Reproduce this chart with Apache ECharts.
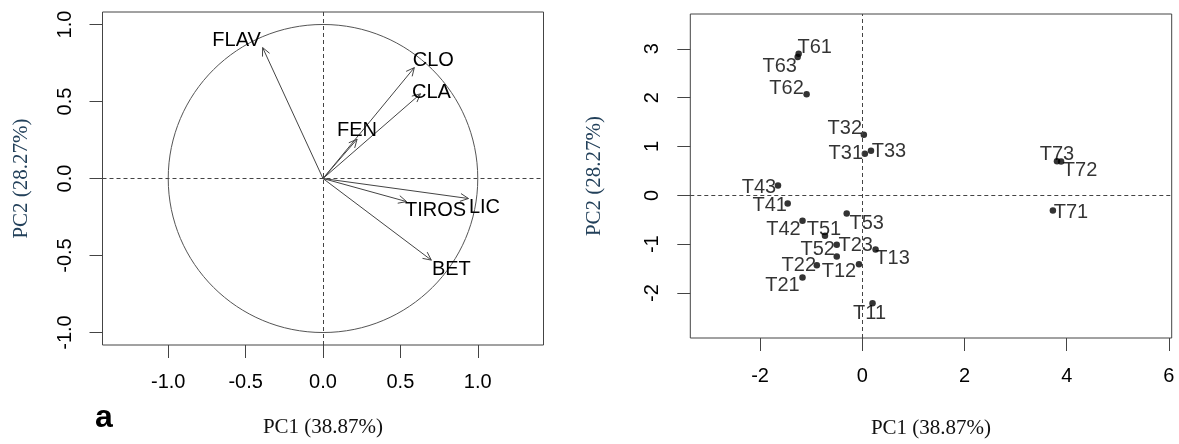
<!DOCTYPE html>
<html>
<head>
<meta charset="utf-8">
<script src="https://cdn.jsdelivr.net/npm/echarts@6/dist/echarts.min.js"></script>
<style>
html,body{margin:0;padding:0;background:#fff;}
#chart{width:1179px;height:444px;}
</style>
</head>
<body>
<div id="chart"></div>
<script>
// ---- Data: loadings (panel a) ----
const loadingVars = ['FLAV', 'CLO', 'CLA', 'FEN', 'LIC', 'TIROS', 'BET'];
const loadingPC1 = [-0.39, 0.59, 0.63, 0.22, 0.94, 0.54, 0.70];
const loadingPC2 = [0.85, 0.72, 0.55, 0.255, -0.13, -0.15, -0.53];
const circleRadius = [1];

// ---- Data: sample scores (panel b) ----
const samples = ['T11','T12','T13','T21','T22','T23','T31','T32','T33','T41','T42','T43','T51','T52','T53','T61','T62','T63','T71','T72','T73'];
const scorePC1 = [0.20, -0.065, 0.26, -1.17, -0.89, -0.50, 0.05, 0.03, 0.17, -1.46, -1.17, -1.65, -0.73, -0.50, -0.305, -1.245, -1.09, -1.265, 3.73, 3.89, 3.81];
const scorePC2 = [-2.21, -1.41, -1.11, -1.68, -1.43, -1.01, 0.85, 1.24, 0.91, -0.17, -0.52, 0.20, -0.83, -1.25, -0.37, 2.90, 2.07, 2.83, -0.31, 0.69, 0.70];

// ---- Tick labels ----
const ticksA = [-1.0, -0.5, 0.0, 0.5, 1.0];
const ticksBx = [-2, 0, 2, 4, 6];
const ticksBy = [-2, -1, 0, 1, 2, 3];
const xTitle = 'PC1 (38.87%)';
const yTitle = 'PC2 (28.27%)';
const panelLetter = 'a';

// ---- Styling (label offsets in px, not data) ----
const arrowLabelOffset = {
  FLAV: [-26, -7], CLO: [19, -7], CLA: [11, -1], FEN: [0, -9],
  LIC: [16, 9], TIROS: [29, 9], BET: [20, 9]
};
const pointLabelOffset = {
  T11: [-3, 10], T12: [-20, 7], T13: [17, 9], T21: [-20, 8], T22: [-18, 0], T23: [19, 1],
  T31: [-19, 0], T32: [-19, -6], T33: [18, 1], T41: [-18, 2], T42: [-19, 9], T43: [-19, 2],
  T51: [-1, -6], T52: [-19, -7], T53: [20, 10], T61: [16, -6], T62: [-20, -6], T63: [-18, 9],
  T71: [18, 2], T72: [19, 9], T73: [0, -7]
};

const SANS = 'Liberation Sans, Arial, sans-serif';
const SERIF = 'Liberation Serif, Times New Roman, serif';
const LBL = 20;
const lineCol = '#444';

const chart = echarts.init(document.getElementById('chart'), null, {renderer: 'canvas'});

function axisCommon(vals, fmt, isY, margin) {
  return {
    type: 'value',
    splitLine: {show: false},
    axisLine: {show: false, onZero: false},
    axisTick: {show: true, inside: false, length: 13, customValues: vals, lineStyle: {color: lineCol, width: 1}},
    axisLabel: {show: true, customValues: vals, formatter: fmt, color: '#000', fontFamily: SANS, fontSize: LBL,
                margin: margin, rotate: isY ? 90 : 0},
    nameLocation: 'middle',
    nameTextStyle: {fontFamily: SERIF, fontSize: 21, color: isY ? '#22405a' : '#111'}
  };
}

const zeroLines = {
  silent: true, symbol: 'none', animation: false,
  label: {show: false},
  lineStyle: {type: [4, 3], color: lineCol, width: 1},
  data: [{xAxis: 0}, {yAxis: 0}]
};

const arrowData = loadingVars.map((n, i) => ({name: n, value: [loadingPC1[i], loadingPC2[i]]}));
const pointData = samples.map((n, i) => ({
  name: n, value: [scorePC1[i], scorePC2[i]],
  label: {offset: pointLabelOffset[n]}
}));

const option = {
  animation: false,
  backgroundColor: '#fff',
  grid: [
    {left: 102.5, top: 12, width: 441, height: 333, show: true, borderColor: lineCol, borderWidth: 1, backgroundColor: 'transparent'},
    {left: 690.3, top: 14, width: 481.4, height: 327, show: true, borderColor: lineCol, borderWidth: 1, backgroundColor: 'transparent'}
  ],
  xAxis: [
    Object.assign(axisCommon(ticksA, v => Number(v).toFixed(1), false, 27), {gridIndex: 0, min: -1.4247, max: 1.4247, name: xTitle, nameGap: 72}),
    Object.assign(axisCommon(ticksBx, v => String(v), false, 28), {gridIndex: 1, min: -3.366, max: 6.055, name: xTitle, nameGap: 80})
  ],
  yAxis: [
    Object.assign(axisCommon(ticksA, v => Number(v).toFixed(1), true, 27), {gridIndex: 0, min: -1.081, max: 1.081, name: yTitle, nameGap: 71}),
    Object.assign(axisCommon(ticksBy, v => String(v), true, 28), {gridIndex: 1, min: -2.921, max: 3.712, name: yTitle, nameGap: 85})
  ],
  graphic: [
    {type: 'text', left: 95, top: 402, style: {text: panelLetter, font: 'bold 32px ' + SANS, fill: '#000'}}
  ],
  series: [
    {
      type: 'custom', xAxisIndex: 0, yAxisIndex: 0, silent: true,
      data: circleRadius.map(r => [0, 0, r]),
      renderItem: function (params, api) {
        const c = api.coord([api.value(0), api.value(1)]);
        const s = api.size([api.value(2), api.value(2)]);
        return {type: 'ellipse', shape: {cx: c[0], cy: c[1], rx: s[0], ry: s[1]},
                style: {fill: 'none', stroke: '#555', lineWidth: 1}};
      },
      markLine: zeroLines
    },
    {
      type: 'custom', xAxisIndex: 0, yAxisIndex: 0, silent: true,
      data: arrowData,
      renderItem: function (params, api) {
        const p0 = api.coord([0, 0]);
        const p1 = api.coord([api.value(0), api.value(1)]);
        const ang = Math.atan2(p1[1] - p0[1], p1[0] - p0[0]);
        const L = 9, a = Math.PI / 7;
        const h1 = [p1[0] - L * Math.cos(ang - a), p1[1] - L * Math.sin(ang - a)];
        const h2 = [p1[0] - L * Math.cos(ang + a), p1[1] - L * Math.sin(ang + a)];
        const name = loadingVars[params.dataIndex];
        const off = arrowLabelOffset[name];
        return {type: 'group', children: [
          {type: 'line', shape: {x1: p0[0], y1: p0[1], x2: p1[0], y2: p1[1]}, style: {stroke: lineCol, lineWidth: 1}},
          {type: 'polyline', shape: {points: [h1, p1, h2]}, style: {stroke: lineCol, lineWidth: 1, fill: 'none'}},
          {type: 'text', x: p1[0] + off[0], y: p1[1] + off[1],
           style: {text: name, font: LBL + 'px ' + SANS, fill: '#000', align: 'center', verticalAlign: 'middle'}}
        ]};
      }
    },
    {
      type: 'scatter', xAxisIndex: 1, yAxisIndex: 1, silent: true,
      symbol: 'circle', symbolSize: 6.5,
      itemStyle: {color: '#000'},
      label: {show: true, position: 'inside', formatter: '{b}', color: '#000', fontFamily: SANS, fontSize: LBL},
      data: pointData,
      markLine: zeroLines
    }
  ]
};
chart.setOption(option);
</script>
</body>
</html>
